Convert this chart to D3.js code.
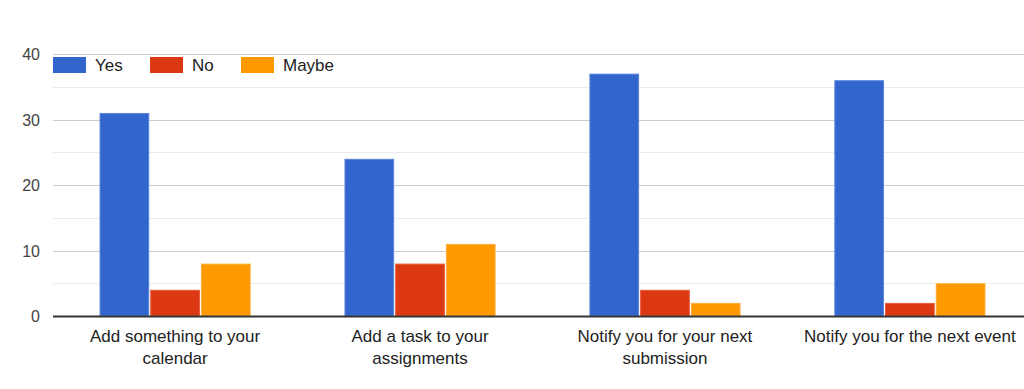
<!DOCTYPE html>
<html>
<head>
<meta charset="utf-8">
<script src="https://cdn.jsdelivr.net/npm/d3@7"></script>
<style>
  body { margin: 0; background: #fff; }
  svg { display: block; font-family: "Liberation Sans", Arial, sans-serif; }
</style>
</head>
<body>
<div id="chart"></div>
<script>
var categories = [
  ["Add something to your", "calendar"],
  ["Add a task to your", "assignments"],
  ["Notify you for your next", "submission"],
  ["Notify you for the next event"]
];
var seriesNames = ["Yes", "No", "Maybe"];
var yesValues = [31, 24, 37, 36];
var noValues = [4, 8, 4, 2];
var maybeValues = [8, 11, 2, 5];
var yTicks = [0, 10, 20, 30, 40];

var color = {Yes: "#3366cc", No: "#dc3912", Maybe: "#ff9900"};
var stroke = {Yes: "#5a85dd", No: "#e8593a", Maybe: "#ffad3a"};

var width = 1024, height = 389;
var plotLeft = 53, plotRight = 1032, plotTop = 54, plotBottom = 316;

var svg = d3.select("#chart").append("svg")
    .attr("width", width)
    .attr("height", height);

var x = d3.scaleBand()
    .domain(d3.range(categories.length))
    .range([plotLeft, plotRight])
    .paddingInner(0.383)
    .paddingOuter(0.19);

var xs = d3.scaleBand()
    .domain(seriesNames)
    .range([0, x.bandwidth()])
    .paddingInner(0.02);

var y = d3.scaleLinear()
    .domain([0, 40])
    .range([plotBottom, plotTop]);

// minor gridlines
svg.append("g").selectAll("line")
    .data(d3.range(5, 40, 10))
    .enter().append("line")
    .attr("x1", plotLeft).attr("x2", width)
    .attr("y1", function(d){ return Math.round(y(d)) + 0.5; })
    .attr("y2", function(d){ return Math.round(y(d)) + 0.5; })
    .attr("stroke", "#ebebeb")
    .attr("stroke-width", 1);

// major gridlines
svg.append("g").selectAll("line")
    .data(yTicks.slice(1))
    .enter().append("line")
    .attr("x1", plotLeft).attr("x2", width)
    .attr("y1", function(d){ return Math.round(y(d)) + 0.5; })
    .attr("y2", function(d){ return Math.round(y(d)) + 0.5; })
    .attr("stroke", "#cccccc")
    .attr("stroke-width", 1);

// y tick labels
svg.append("g").selectAll("text")
    .data(yTicks)
    .enter().append("text")
    .attr("x", 40)
    .attr("y", function(d){ return y(d) + 6; })
    .attr("text-anchor", "end")
    .style("font-size", "16px")
    .style("fill", "#444")
    .text(function(d){ return d; });

var rows = categories.map(function(c, i){
    return {i: i, values: [
        {key: "Yes", value: yesValues[i]},
        {key: "No", value: noValues[i]},
        {key: "Maybe", value: maybeValues[i]}
    ]};
});

var groups = svg.selectAll(".group")
    .data(rows)
    .enter().append("g")
    .attr("class", "group")
    .attr("transform", function(d){ return "translate(" + x(d.i) + ",0)"; });

groups.selectAll("rect")
    .data(function(d){ return d.values; })
    .enter().append("rect")
    .attr("x", function(d){ return xs(d.key) + 0.5; })
    .attr("y", function(d){ return y(d.value) + 0.5; })
    .attr("width", xs.bandwidth() - 1)
    .attr("height", function(d){ return y(0) - y(d.value) - 0.5; })
    .attr("fill", function(d){ return color[d.key]; })
    .attr("stroke", function(d){ return stroke[d.key]; })
    .attr("stroke-width", 1);

// baseline
svg.append("line")
    .attr("x1", plotLeft).attr("x2", width)
    .attr("y1", y(0) + 0.5).attr("y2", y(0) + 0.5)
    .attr("stroke", "#333")
    .attr("stroke-width", 2);

// category labels
var labels = svg.append("g").selectAll("text")
    .data(categories)
    .enter().append("text")
    .attr("x", function(d, i){ return x(i) + x.bandwidth() / 2; })
    .attr("y", 342)
    .attr("text-anchor", "middle")
    .style("font-size", "17px")
    .style("fill", "#222");

labels.selectAll("tspan")
    .data(function(d){ return d; })
    .enter().append("tspan")
    .attr("x", function(){ return d3.select(this.parentNode).attr("x"); })
    .attr("dy", function(d, j){ return j === 0 ? 0 : 22; })
    .text(function(d){ return d; });

// legend
var legendX = [53, 150, 241];
var legend = svg.selectAll(".legend")
    .data(seriesNames)
    .enter().append("g")
    .attr("class", "legend")
    .attr("transform", function(d, i){ return "translate(" + legendX[i] + ",57)"; });

legend.append("rect")
    .attr("width", 33)
    .attr("height", 16)
    .attr("fill", function(d){ return color[d]; });

legend.append("text")
    .attr("x", 42)
    .attr("y", 14)
    .style("font-size", "17px")
    .style("fill", "#222")
    .text(function(d){ return d; });
</script>
</body>
</html>
